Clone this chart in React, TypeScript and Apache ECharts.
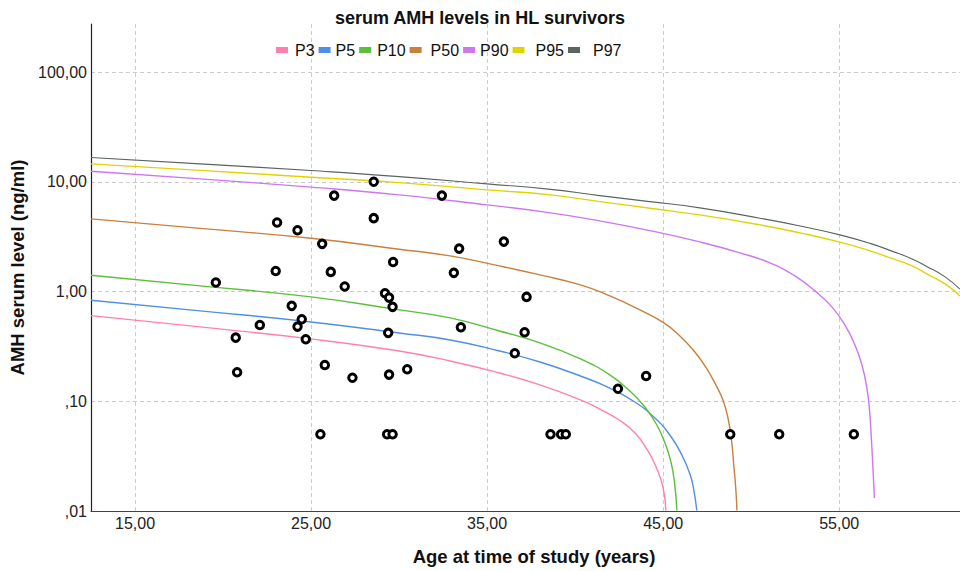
import { useEffect, useRef } from 'react';
import * as echarts from 'echarts';

// ---- Percentile curve data (age in years, AMH ng/ml) ----
const p3Age = [12.5, 18.7, 25, 30, 32.9, 35.7, 38, 40.3, 41.4, 42.5, 43.4, 44.1, 44.6, 45.0, 45.15];
const p3Val = [0.603, 0.476, 0.37, 0.287, 0.233, 0.181, 0.141, 0.103, 0.085, 0.0675, 0.0514, 0.036, 0.0252, 0.0162, 0.0101];

const p5Age = [12.5, 18.7, 25, 30, 32.9, 35.7, 38, 40.3, 41.97, 43.39, 44.53, 45.38, 46.06, 46.52, 46.74, 46.91];
const p5Val = [0.833, 0.666, 0.528, 0.419, 0.362, 0.287, 0.228, 0.17, 0.132, 0.0985, 0.0704, 0.0493, 0.0324, 0.0217, 0.0155, 0.0101];

const p10Age = [12.5, 18.7, 25, 30, 32.9, 35.7, 38, 40.3, 41.97, 43.11, 43.96, 44.64, 45.1, 45.44, 45.64, 45.78];
const p10Val = [1.408, 1.125, 0.893, 0.68, 0.575, 0.437, 0.34, 0.243, 0.174, 0.124, 0.0887, 0.0608, 0.0417, 0.028, 0.0184, 0.0101];

const p50Age = [12.5, 18.7, 25, 30, 32.9, 35.7, 38, 40.3, 41.97, 43.68, 45.0, 45.95, 46.8, 47.48, 47.99, 48.39, 48.68, 48.88, 49.02, 49.13, 49.19];
const p50Val = [4.59, 3.76, 3.06, 2.43, 2.11, 1.712, 1.417, 1.149, 0.912, 0.68, 0.523, 0.394, 0.281, 0.197, 0.141, 0.103, 0.0704, 0.0444, 0.0252, 0.0155, 0.0101];

const p90Age = [12.5, 18.7, 25, 30, 35, 38.6, 41.4, 44.24, 47.08, 49.36, 51.06, 52.48, 53.62, 54.58, 55.32, 55.89, 56.29, 56.57, 56.72, 56.83, 56.92, 57.0];
const p90Val = [12.49, 10.63, 8.93, 7.6, 6.16, 5.21, 4.4, 3.59, 2.83, 2.25, 1.823, 1.388, 1.013, 0.724, 0.496, 0.326, 0.214, 0.132, 0.0833, 0.0444, 0.0236, 0.0131];

const p95Age = [12.5, 18.7, 25, 30, 35, 38.6, 41.4, 44.24, 47.08, 50.49, 52.77, 55.04, 56.75, 58.07, 59.14, 59.97, 61.01, 61.86];
const p95Val = [14.56, 12.7, 11.01, 9.83, 8.44, 7.6, 6.6, 5.74, 4.99, 4.05, 3.42, 2.815, 2.345, 1.98, 1.712, 1.447, 1.173, 0.912];

const p97Age = [12.5, 18.7, 25, 30, 35, 38.6, 41.4, 44.24, 47.08, 50.49, 52.77, 55.04, 56.75, 58.07, 59.14, 59.97, 61.01, 61.86];
const p97Val = [16.62, 14.56, 12.65, 11.15, 9.57, 8.52, 7.48, 6.6, 5.78, 4.66, 3.96, 3.28, 2.745, 2.31, 1.98, 1.694, 1.359, 1.05];

// ---- Survivor measurements ----
const amhAge = [19.59, 20.72, 20.8, 22.09, 22.99, 23.07, 23.9, 24.23, 24.23, 24.47, 24.7, 25.53, 25.63, 25.78, 26.12, 26.31, 26.91, 27.35, 28.56, 28.56, 29.2, 29.43, 29.63, 29.66, 29.38, 29.43, 29.32, 29.63, 30.46, 32.43, 33.11, 33.41, 33.51, 35.95, 36.57, 37.13, 37.24, 38.6, 39.2, 39.47, 42.43, 44.03, 48.81, 51.59, 55.83];
const amhVal = [1.21, 0.38, 0.184, 0.496, 1.54, 4.25, 0.74, 3.62, 0.479, 0.559, 0.367, 0.05, 2.72, 0.214, 1.51, 7.48, 1.11, 0.164, 10.0, 4.66, 0.965, 0.88, 0.725, 1.86, 0.42, 0.175, 0.05, 0.05, 0.196, 7.48, 1.48, 2.46, 0.473, 2.85, 0.274, 0.426, 0.893, 0.05, 0.05, 0.05, 0.13, 0.17, 0.05, 0.05, 0.05];

const xTicks = [15, 25, 35, 45, 55];

const curveNames = ['P3', 'P5', 'P10', 'P50', 'P90', 'P95', 'P97'];
const curveAges = [p3Age, p5Age, p10Age, p50Age, p90Age, p95Age, p97Age];
const curveVals = [p3Val, p5Val, p10Val, p50Val, p90Val, p95Val, p97Val];
const curveColors = ['#ff80b0', '#4f8fe6', '#5abf3a', '#c8803c', '#cc77ee', '#e0d400', '#5a6460'];
const legendTextPad = [2, 0, 1, 4, 0, 6, 8];

const FONT = '"Liberation Sans", Arial, sans-serif';

function fmtY(v: number): string {
  let s = v.toFixed(2).replace('.', ',');
  if (s.startsWith('0')) s = s.slice(1);
  return s;
}

export default function App() {
  const ref = useRef<HTMLDivElement>(null);
  useEffect(() => {
    const chart = echarts.init(ref.current!, null, { renderer: 'svg' });
    const lineSeries = curveNames.map((name, i) => ({
      name,
      type: 'line',
      data: curveAges[i].map((a, j) => [a, curveVals[i][j]]),
      smooth: 0.5,
      showSymbol: false,
      symbol: 'none',
      lineStyle: { color: curveColors[i], width: i === 6 ? 1.1 : 1.4 },
      itemStyle: { color: curveColors[i] },
      z: 2,
    }));
    const option: any = {
      animation: false,
      textStyle: { fontFamily: FONT },
      title: {
        text: 'serum AMH levels in HL survivors',
        left: 'center',
        top: 9,
        padding: 0,
        textStyle: { fontFamily: FONT, fontSize: 18, fontWeight: 'bold', color: '#111' },
      },
      legend: {
        left: 276,
        top: 42,
        padding: 0,
        itemGap: 4,
        itemWidth: 12,
        itemHeight: 6,
        icon: 'rect',
        textStyle: { fontFamily: FONT, fontSize: 16, color: '#111' },
        data: curveNames.map((n, i) => ({
          name: n,
          textStyle: { padding: [0, 0, 0, legendTextPad[i]] },
        })),
      },
      grid: {
        left: 91,
        right: 0,
        top: 24,
        bottom: 60,
        containLabel: false,
        outerBoundsMode: 'none',
      },
      xAxis: {
        type: 'value',
        min: 12.5,
        max: 61.86,
        name: 'Age at time of study (years)',
        nameLocation: 'middle',
        nameGap: 36,
        nameTextStyle: { fontFamily: FONT, fontSize: 18.5, fontWeight: 'bold', color: '#111', padding: [0, 0, 0, 17] },
        axisLine: { show: true, lineStyle: { color: '#444', width: 1.2 } },
        axisTick: { show: false, customValues: xTicks },
        axisLabel: {
          customValues: xTicks,
          formatter: (v: number) => v.toFixed(2).replace('.', ','),
          fontFamily: FONT,
          fontSize: 16,
          color: '#222',
          margin: 4,
        },
        splitLine: {
          show: true,
          lineStyle: { color: '#cccccc', type: [4, 3], width: 1 },
        },
      },
      yAxis: {
        type: 'log',
        logBase: 10,
        min: 0.01,
        max: 274,
        name: 'AMH serum level (ng/ml)',
        nameLocation: 'middle',
        nameGap: 56,
        nameTextStyle: { fontFamily: FONT, fontSize: 18.5, fontWeight: 'bold', color: '#111' },
        axisLine: { show: true, lineStyle: { color: '#222', width: 1.2 } },
        axisTick: { show: false },
        axisLabel: {
          formatter: (v: number) => fmtY(v),
          showMaxLabel: false,
          fontFamily: FONT,
          fontSize: 16,
          color: '#222',
          margin: 4,
        },
        splitLine: {
          show: true,
          showMaxLine: false,
          showMinLine: false,
          lineStyle: { color: '#cccccc', type: [4, 3], width: 1 },
        },
      },
      series: [
        ...lineSeries,
        {
          name: 'AMH',
          type: 'scatter',
          data: amhAge.map((a, i) => [a, amhVal[i]]),
          symbol: 'circle',
          symbolSize: 7.5,
          itemStyle: { color: '#ffffff', borderColor: '#000000', borderWidth: 3, opacity: 1 },
          z: 5,
        },
      ],
    };
    chart.setOption(option);
    return () => chart.dispose();
  }, []);
  return <div ref={ref} style={{ position: 'absolute', left: 0, top: 0, width: 960, height: 571 }} />;
}
